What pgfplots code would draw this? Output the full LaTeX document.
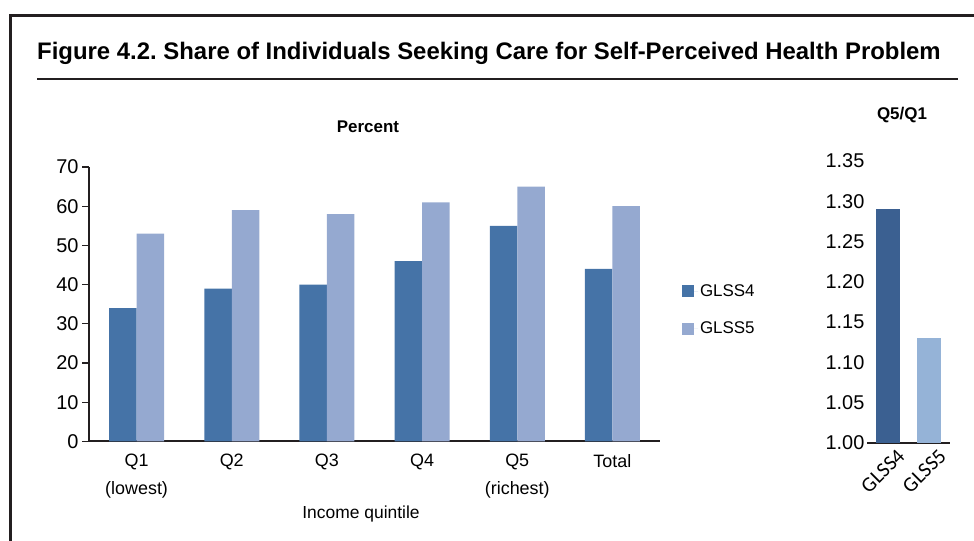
\documentclass[border=0pt]{standalone}
\usepackage{pgfplots}
\pgfplotsset{compat=1.18}
\usepackage{fontspec}
\setmainfont{Liberation Sans}
\newfontfamily\carlito{Carlito}
\definecolor{darkA}{HTML}{4573A7}
\definecolor{lightA}{HTML}{95A9D0}
\definecolor{darkB}{HTML}{3B6091}
\definecolor{lightB}{HTML}{95B3D7}
\definecolor{axisc}{HTML}{231F20}
\frenchspacing
\begin{document}
\begin{tikzpicture}
\path[use as bounding box] (0,0) rectangle (974bp,541bp);
% frame
\draw[line width=3bp, color=axisc] (10bp,-2bp) -- (10bp,525.5bp) -- (976bp,525.5bp);
\draw[line width=2.5bp, color=axisc] (37bp,462bp) -- (958bp,462bp);
\node[anchor=base west, inner sep=0pt, font=\fontsize{24}{28}\selectfont\bfseries] at (37bp,481bp)
  {Figure 4.2. Share of Individuals Seeking Care for Self-Perceived Health Problem};
\node[font=\fontsize{17}{20}\selectfont\bfseries] at (368bp,414bp) {Percent};
\node[font=\fontsize{17}{20}\selectfont\bfseries] at (902bp,426bp) {Q5/Q1};
\node[anchor=base, inner sep=0pt, font=\fontsize{17.5}{20}\selectfont] at (361bp,23bp) {Income quintile};

\begin{axis}[
  at={(89bp,99.5bp)}, anchor=south west,
  scale only axis, width=571bp, height=274.5bp,
  xmin=-0.5, xmax=5.5, ymin=0, ymax=70,
  ytick={0,10,20,30,40,50,60,70},
  xtick={0,1,2,3,4,5},
  xticklabels={Q1\\(lowest), Q2, Q3, Q4, Q5\\(richest), Total},
  xticklabel style={align=center, font=\fontsize{18}{28}\selectfont, yshift=-2bp},
  yticklabel style={font=\fontsize{20}{22}\selectfont},
  /pgf/number format/assume math mode=true,
  axis x line=bottom, axis y line=left,
  axis line style={line width=2bp, color=axisc, -},
  major x tick style={draw=none},
  ytick style={line width=1.2bp, color=axisc},
  tick align=outside, major tick length=7bp,
  ybar=0pt, bar width=27.5bp,
  legend style={at={(1.033,0.479)}, anchor=west, draw=none, fill=none,
    font=\fontsize{17}{20}\selectfont, row sep=20bp},
  legend cell align=left,
  legend image code/.code={\fill[#1] (0bp,-6bp) rectangle (12bp,6bp); \path (12bp,0bp) -- (16bp,0bp);},
]
\addplot[fill=darkA, draw=none] coordinates {(0,34) (1,39) (2,40) (3,46) (4,55) (5,44)};
\addplot[fill=lightA, draw=none] coordinates {(0,53) (1,59) (2,58) (3,61) (4,65) (5,60)};
\legend{GLSS4, GLSS5}
\end{axis}

\begin{axis}[
  at={(867bp,98bp)}, anchor=south west,
  scale only axis, width=83bp, height=282bp,
  xmin=-0.5, xmax=1.5, ymin=1.00, ymax=1.35,
  ytick={1.00,1.05,1.10,1.15,1.20,1.25,1.30,1.35},
  xtick={0,1},
  xticklabels={GLSS4, GLSS5},
  xticklabel style={rotate=45, anchor=north east, font=\carlito\fontsize{21}{22}\selectfont, xshift=9bp, yshift=-3bp},
  yticklabel style={font=\fontsize{20}{22}\selectfont, xshift=3bp, /pgf/number format/.cd, fixed, fixed zerofill, precision=2},
  /pgf/number format/assume math mode=true,
  axis x line=bottom, axis y line=left,
  x axis line style={line width=2bp, color=axisc, -},
  y axis line style={draw=none},
  major tick style={draw=none},
  ybar, bar width=24bp,
]
\addplot[fill=darkB, draw=none, bar shift=0pt] coordinates {(0,1.29)};
\addplot[fill=lightB, draw=none, bar shift=0pt] coordinates {(1,1.13)};
\end{axis}
\end{tikzpicture}
\end{document}
